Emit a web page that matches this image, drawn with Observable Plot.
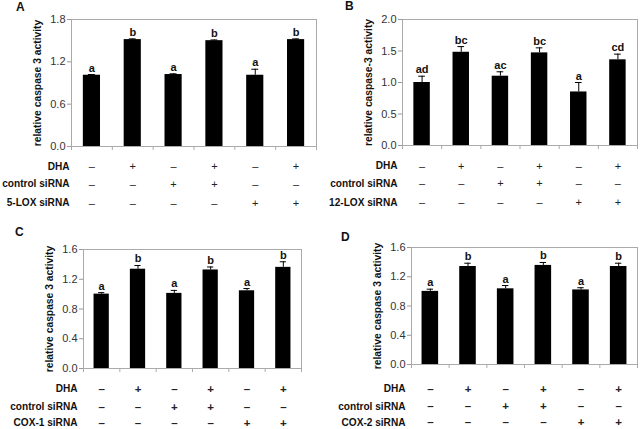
<!DOCTYPE html>
<html>
<head>
<meta charset="utf-8">
<script src="https://cdn.jsdelivr.net/npm/d3@7"></script>
<script src="https://cdn.jsdelivr.net/npm/@observablehq/plot@0.6"></script>
<style>
  html, body { margin: 0; padding: 0; background: white; }
  #wrap { position: relative; width: 640px; height: 429px; overflow: hidden; background: white;
          font-family: 'Liberation Sans', Arial, sans-serif; }
  .panel { position: absolute; }
  .letter { position: absolute; font-weight: bold; color: #111; line-height: 1; }
</style>
</head>
<body>
<div id="wrap"></div>
<script>
// ---- data ----
const dha        = ["–", "+", "–", "+", "–", "+"];
const controlSi  = ["–", "–", "+", "+", "–", "–"];
const targetSi   = ["–", "–", "–", "–", "+", "+"];

const panelNames   = ["A", "B", "C", "D"];
const targetLabels = ["5-LOX siRNA", "12-LOX siRNA", "COX-1 siRNA", "COX-2 siRNA"];
const yLabels      = ["relative caspase 3 activity", "relative caspase-3 activity",
                      "relative caspase 3 activity", "relative caspase 3 activity"];

const valuesA = [1.01, 1.515, 1.02, 1.50, 1.01, 1.515];
const errorsA = [0.01, 0.01, 0.01, 0.01, 0.085, 0.01];
const lettersA = ["a", "b", "a", "b", "a", "b"];

const valuesB = [1.00, 1.48, 1.10, 1.47, 0.85, 1.36];
const errorsB = [0.10, 0.09, 0.07, 0.08, 0.15, 0.09];
const lettersB = ["ad", "bc", "ac", "bc", "a", "cd"];

const valuesC = [1.00, 1.335, 1.01, 1.325, 1.045, 1.36];
const errorsC = [0.02, 0.05, 0.04, 0.04, 0.03, 0.075];
const lettersC = ["a", "b", "a", "b", "a", "b"];

const valuesD = [1.00, 1.34, 1.035, 1.355, 1.02, 1.34];
const errorsD = [0.03, 0.045, 0.045, 0.04, 0.03, 0.045];
const lettersD = ["a", "b", "a", "b", "a", "b"];

const yTicksA = [0, 0.6, 1.2, 1.8];
const yTicksB = [0, 0.5, 1.0, 1.5, 2.0];
const yTicksC = [0, 0.4, 0.8, 1.2, 1.6];
const yTicksD = [0, 0.4, 0.8, 1.2, 1.6];

// ---- layout (presentation only) ----
const layouts = [
  {left: 0,   top: 0,   width: 320, height: 215, mL: 71, mR: 4,  mT: 19, mB: 69, hw: 0.21,
   rows: [20, 37.5, 56.5], labDx: -2, signBold: false, letter: {x: 16, y: 1, size: 12}},
  {left: 320, top: 0,   width: 320, height: 215, mL: 82, mR: 3,  mT: 19, mB: 70, hw: 0.21,
   rows: [20.5, 38, 57], labDx: -5, signBold: false, letter: {x: 345, y: 0, size: 12}},
  {left: 0,   top: 215, width: 320, height: 214, mL: 83, mR: 19, mT: 34, mB: 61, hw: 0.21,
   rows: [20.7, 38.5, 54.5], labDx: -6, signBold: true, letter: {x: 15, y: 226, size: 12}},
  {left: 320, top: 215, width: 320, height: 214, mL: 91, mR: 3,  mT: 32, mB: 65, hw: 0.22,
   rows: [24.7, 42.2, 58.2], labDx: -6, signBold: true, letter: {x: 341, y: 231, size: 12}}
];

const allValues  = [valuesA, valuesB, valuesC, valuesD];
const allErrors  = [errorsA, errorsB, errorsC, errorsD];
const allLetters = [lettersA, lettersB, lettersC, lettersD];
const allTicks   = [yTicksA, yTicksB, yTicksC, yTicksD];

const wrap = document.getElementById("wrap");
const fontFamily = "'Liberation Sans', Arial, sans-serif";

function makePanel(k) {
  const L = layouts[k];
  const rows = allValues[k].map((v, i) => ({
    i, v, e: allErrors[k][i], l: allLetters[k][i],
    dha: dha[i], ctl: controlSi[i], tgt: targetSi[i]
  }));
  const ticks = allTicks[k];
  const yMax = ticks[ticks.length - 1];
  const boundaries = d3.range(-0.5, rows.length, 1);
  const signStyle = {fontSize: L.signBold ? 11.5 : 11, fontWeight: L.signBold ? "bold" : "normal", fill: "#222"};
  const rowFields = ["dha", "ctl", "tgt"];
  const rowNames = ["DHA", "control siRNA", targetLabels[k]];

  const marks = [
    Plot.frame({stroke: "#aaa"}),
    Plot.axisY({ticks, tickFormat: d3.format(".1f"), tickSize: 4, tickPadding: 2,
                stroke: "#999", fill: "#333", fontSize: 11, label: null}),
    Plot.axisX({ticks: boundaries, tickFormat: () => "", tickSize: 4, stroke: "#aaa", label: null}),
    Plot.rect(rows, {x1: d => d.i - L.hw, x2: d => d.i + L.hw, y1: 0, y2: "v", fill: "black"}),
    Plot.ruleX(rows, {x: "i", y1: "v", y2: d => d.v + d.e, stroke: "black", strokeWidth: 1}),
    Plot.ruleY(rows, {y: d => d.v + d.e, x1: d => d.i - 0.085, x2: d => d.i + 0.085, stroke: "black", strokeWidth: 1}),
    Plot.text(rows, {x: "i", y: d => d.v + d.e, text: "l", dy: -3, lineAnchor: "bottom",
                     fontWeight: "bold", fontSize: 11, fill: "#111"}),
    Plot.text([yLabels[k]], {text: d => d, frameAnchor: "left", dx: -34, rotate: -90,
                     textAnchor: "middle", fontWeight: "bold", fontSize: 10.3, fill: "#111"})
  ];
  rowFields.forEach((f, r) => {
    marks.push(Plot.text(rows, {x: "i", text: f, frameAnchor: "bottom", dy: L.rows[r],
                                lineAnchor: "middle", ...signStyle}));
    marks.push(Plot.text([rowNames[r]], {text: d => d, frameAnchor: "bottom-left", dx: L.labDx,
                                dy: L.rows[r], lineAnchor: "middle", textAnchor: "end",
                                fontWeight: "bold", fontSize: 10.1, fill: "#111"}));
  });

  const chart = Plot.plot({
    width: L.width, height: L.height,
    marginLeft: L.mL, marginRight: L.mR, marginTop: L.mT, marginBottom: L.mB,
    style: {fontFamily, background: "white", overflow: "visible"},
    x: {type: "linear", domain: [-0.5, rows.length - 0.5]},
    y: {domain: [0, yMax]},
    marks
  });
  const div = document.createElement("div");
  div.className = "panel";
  div.style.left = L.left + "px";
  div.style.top = L.top + "px";
  div.appendChild(chart);
  wrap.appendChild(div);

  const letter = document.createElement("div");
  letter.className = "letter";
  letter.textContent = panelNames[k];
  letter.style.left = L.letter.x + "px";
  letter.style.top = L.letter.y + "px";
  letter.style.fontSize = L.letter.size + "px";
  wrap.appendChild(letter);
}

[0, 1, 2, 3].forEach(makePanel);
</script>
</body>
</html>
